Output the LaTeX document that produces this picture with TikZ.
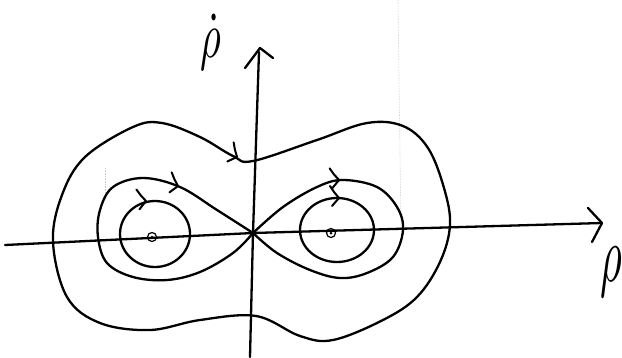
\documentclass[tikz,border=0pt]{standalone}
\usepackage{amsmath}
\tikzset{
  orbit/.style={black, line width=2.3pt, line cap=round, line join=round},
  axisline/.style={black, line width=2.3pt, line cap=round, line join=round},
  flowtip/.style={black, line width=2pt, line cap=round, line join=round},
  faint/.style={gray!45, line width=0.6pt, densely dotted}
}
% chevron on an orbit: position, direction
\newcommand{\flowmark}[3]{\draw[flowtip, shift={(#1,#2)}, rotate=#3] (-7,8) -- (0,0) -- (-5,-6) -- (-9,-12);}
\begin{document}
\begin{tikzpicture}[x=1pt, y=-1pt]
                \useasboundingbox (0,0) rectangle (622,357);
                % Faint scan lines
                \draw[faint] (105,168) -- (105,200);
                \draw[faint] (398,0) -- (401,230);
                % Axes
                \coordinate (origin) at (253,233);
                \draw[axisline] (5,245) -- (origin) -- (602,223);
                \draw[axisline] (588,208) -- (602,223) -- (592,242);
                \draw[axisline] (250,357) -- (origin) -- (259,52);
                \draw[axisline] (245,68) -- (260,48) -- (273,58);
                % Labels
                \node[inner sep=0pt] (rhodot) at (211,42) {\scalebox{4}[6.5]{$\dot{\rho}$}};
                \node[inner sep=0pt] (rho) at (611,272) {\scalebox{4.2}[8]{$\rho$}};
                % Outer orbit
                \draw[orbit] plot[smooth cycle, tension=0.6] coordinates {
                    (253,161) (317,140) (367,123) (403,126) (428,148) (444,188)
                    (450,225) (440,262) (417,297) (383,320) (333,340) (300,336)
                    (256,316) (200,320) (150,330) (100,323) (67,297) (53,242)
                    (62,195) (85,157) (133,127) (162,123) (200,137) (233,156)};
                % Separatrix (figure eight)
                \draw[orbit] plot[smooth, tension=0.6] coordinates {
                    (origin) (217,210) (180,187) (143,178) (113,187) (100,210) (98,237)
                    (107,263) (133,277) (167,280) (200,272) (233,253) (origin)};
                \draw[orbit] plot[smooth, tension=0.6] coordinates {
                    (origin) (283,207) (317,187) (343,180) (377,187) (397,207) (403,230)
                    (393,257) (367,273) (340,278) (310,270) (277,253) (origin)};
                % Inner orbits
                \draw[orbit] (155,234) ellipse [x radius=35, y radius=33];
                \draw[orbit] (337,230) ellipse [x radius=37, y radius=32];
                % Centres
                \foreach \cx/\cy in {152/237, 331/233} {
                    \draw[black, line width=1.2pt] (\cx,\cy) circle (4.5);
                    \fill[black] (\cx,\cy) circle (1.5);
                }
                % Flow direction
                \foreach \px/\py/\ang in {237/157/-24, 178/186/-12, 146/201/3, 339/180/2, 339/198/0} {
                    \flowmark{\px}{\py}{\ang}
                }
            \end{tikzpicture}
\end{document}
